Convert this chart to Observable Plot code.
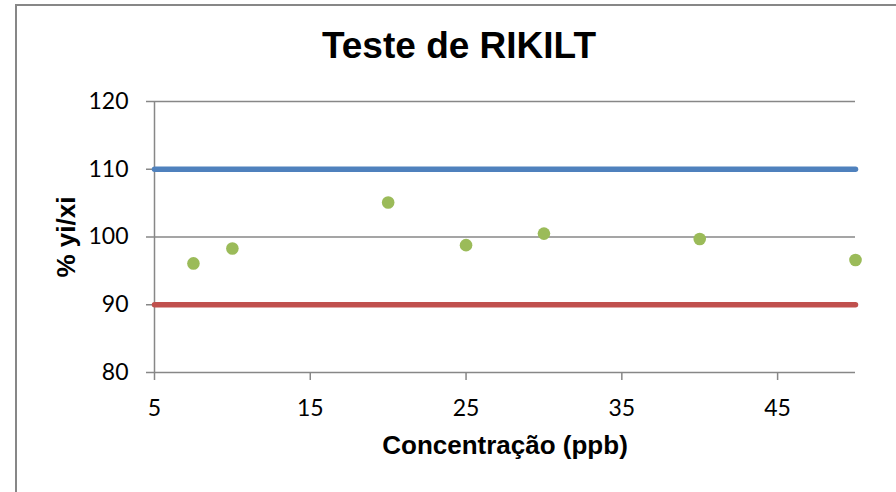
<!DOCTYPE html>
<html>
<head>
<meta charset="utf-8">
<script src="https://cdn.jsdelivr.net/npm/d3@7"></script>
<script src="https://cdn.jsdelivr.net/npm/@observablehq/plot@0.6"></script>
<style>
  html, body { margin: 0; padding: 0; background: #fff; overflow: hidden; width: 896px; height: 492px; }
  #frame { position: absolute; left: 15px; top: 4px; width: 1200px; height: 1200px; border: 2px solid #878787; box-sizing: border-box; }
  #title { position: absolute; left: 0; width: 918px; top: 25px; text-align: center; font-family: "Liberation Sans", Arial, sans-serif; font-weight: bold; font-size: 37px; line-height: 1.15; color: #000; }
  #chart { position: absolute; left: 0; top: 0; }
</style>
</head>
<body>
<div id="frame"></div>
<div id="title">Teste de RIKILT</div>
<div id="chart"></div>
<script>
// Data
const concentration = [7.5, 10, 20, 25, 30, 40, 50];
const recovery = [96.1, 98.3, 105.1, 98.8, 100.5, 99.7, 96.6];
const limitX = [5, 50];
const upperLimit = 110;
const lowerLimit = 90;
const xTicks = [5, 15, 25, 35, 45];
const yTicks = [80, 90, 100, 110, 120];
const xLabel = "Concentração (ppb)";
const yLabel = "% yi/xi";

const points = concentration.map((c, i) => ({x: c, y: recovery[i]}));
const upperLine = limitX.map(x => ({x, y: upperLimit}));
const lowerLine = limitX.map(x => ({x, y: lowerLimit}));

const gray = "#878787";
const labelFont = "Liberation Sans, Arial, sans-serif";
const chart = Plot.plot({
  width: 896,
  height: 492,
  marginLeft: 154,
  marginRight: 41,
  marginTop: 101,
  marginBottom: 120,
  style: {fontFamily: "Lato, sans-serif", fontSize: "23px", background: "transparent", overflow: "visible"},
  x: {domain: [5, 50]},
  y: {domain: [80, 120]},
  marks: [
    Plot.ruleY(yTicks.slice(1), {stroke: gray, strokeWidth: 1.5}),
    Plot.ruleY([80], {stroke: gray, strokeWidth: 1.5}),
    Plot.ruleX([5], {stroke: gray, strokeWidth: 1.5}),
    Plot.axisY({ticks: yTicks, tickSize: 8, tickPadding: 18, stroke: gray, strokeWidth: 1.5, fill: "#000", label: null, tickFormat: d => d}),
    Plot.axisX({ticks: xTicks, tickSize: 8, tickPadding: 19, stroke: gray, strokeWidth: 1.5, fill: "#000", label: null, tickFormat: d => d}),
    Plot.line(upperLine, {x: "x", y: "y", stroke: "#4F81BD", strokeWidth: 5.5, strokeLinecap: "round"}),
    Plot.line(lowerLine, {x: "x", y: "y", stroke: "#C0504D", strokeWidth: 5.5, strokeLinecap: "round"}),
    Plot.dot(points, {x: "x", y: "y", r: 6.3, fill: "#9BBB59", stroke: "none"}),
    Plot.text([xLabel], {text: d => d, frameAnchor: "bottom", textAnchor: "middle", lineAnchor: "middle", dy: 73, fontFamily: labelFont, fontWeight: "bold", fontSize: 26, fill: "#000"}),
    Plot.text([yLabel], {text: d => d, frameAnchor: "left", textAnchor: "middle", lineAnchor: "middle", dx: -88, rotate: -90, fontFamily: labelFont, fontWeight: "bold", fontSize: 26, fill: "#000"})
  ]
});
document.getElementById("chart").appendChild(chart);
</script>
</body>
</html>
